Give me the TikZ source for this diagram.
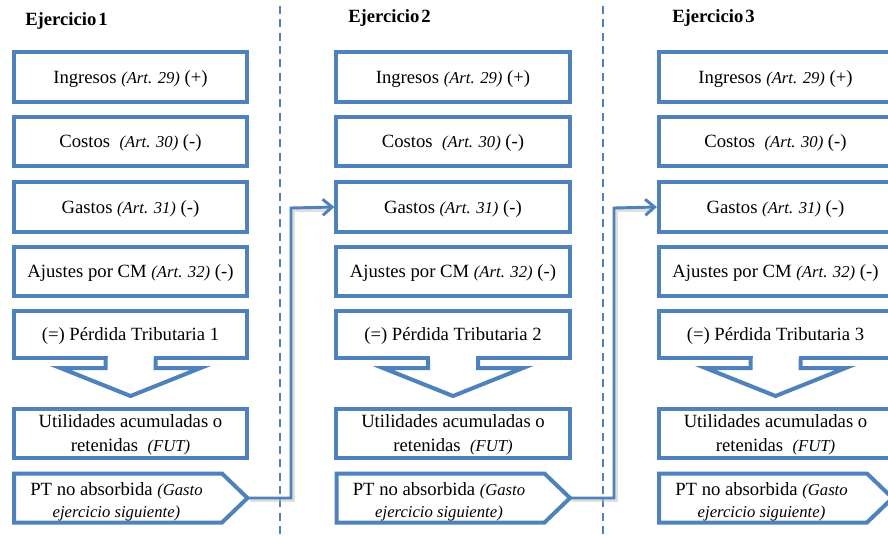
\documentclass[tikz,border=0pt]{standalone}
\usepackage{fontspec}
\setmainfont{Liberation Serif}
\usetikzlibrary{arrows.meta}
\definecolor{myblue}{HTML}{4F81BD}
\newcommand{\artx}[1]{{\fontsize{12.5}{14}\selectfont\itshape #1}}
\tikzset{
  box/.style={draw=myblue, line width=3pt, fill=white, minimum width=175pt,
    minimum height=37pt, inner sep=2pt, align=center, text depth=0pt,
    font=\fontsize{14}{18}\selectfont},
  hdr/.style={anchor=west, inner sep=0pt, font=\fontsize{14}{16}\selectfont\bfseries},
  ptxt/.style={inner sep=0pt, align=center, font=\fontsize{14}{16.5}\selectfont},
  divider/.style={draw=myblue, line width=2.2pt, dash pattern=on 6pt off 4pt},
  conn/.style={draw=myblue, line width=2.2pt, -{Straight Barb[length=7pt,width=12pt]}},
  connshadow/.style={draw=black!25, line width=2.5pt, opacity=0.5},
  outline/.style={draw=myblue, line width=3pt, line join=miter, fill=white}
}
\begin{document}
\begin{tikzpicture}[x=0.75pt,y=-0.75pt]
\useasboundingbox (0,0) rectangle (888,535);
\clip (0,0) rectangle (888,535);
% dividers
\draw[divider] (280,6) -- (280,535);
\draw[divider] (603,6) -- (603,535);
% headers
\node[hdr] (h1) at (25,21) {Ejercicio\hspace{1.5pt}1};
\node[hdr] (h2) at (348,18) {Ejercicio\hspace{1.5pt}2};
\node[hdr] (h3) at (672,18) {Ejercicio\hspace{1.5pt}3};
\foreach \i/\cx in {1/130.5, 2/453, 3/775.5}{
  \node[box] (in\i) at (\cx,77) {Ingresos \artx{(Art. 29)} (+)};
  \node[box] (co\i) at (\cx,141.5) {Costos\ \ \artx{(Art. 30)} (-)};
  \node[box] (ga\i) at (\cx,207) {Gastos \artx{(Art. 31)} (-)};
  \node[box] (aj\i) at (\cx,271.5) {Ajustes por CM \artx{(Art. 32)} (-)};
  \node[box, minimum height=35.5pt] (pe\i) at (\cx,334.5) {(=) Pérdida Tributaria \i};
  % down block arrow
  \fill[white] ({\cx-23},355) rectangle ({\cx+23},368);
  \draw[outline] ({\cx-25},358) -- ({\cx-25},368) -- ({\cx-70},368) -- (\cx,396)
     -- ({\cx+70},368) -- ({\cx+25},368) -- ({\cx+25},358);
  \node[box] (ut\i) at (\cx,433.5) {Utilidades acumuladas o\\retenidas\ \ \artx{(FUT)}};
  % PT no absorbida pentagon
  \draw[outline] ({\cx-116.5},473.5) -- ({\cx+91.5},473.5) -- ({\cx+117},498)
     -- ({\cx+91.5},522.5) -- ({\cx-116.5},522.5) -- cycle;
  \coordinate (tip\i) at ({\cx+117},498);
  \node[ptxt] (pt\i) at ({\cx-14},501.5) {PT no absorbida \artx{(Gasto}\\\artx{ejercicio siguiente)}};
}
% connectors
\draw[connshadow] ([shift={(2,2)}]tip1) -- (293,500) -- (293,210) -- (330,210);
\draw[conn] (tip1) -- (291,498) -- (291,208) -- (ga2.west);
\draw[connshadow] ([shift={(2,2)}]tip2) -- (616,500) -- (616,210) -- (653,210);
\draw[conn] (tip2) -- (614,498) -- (614,208) -- (ga3.west);
\end{tikzpicture}
\end{document}
